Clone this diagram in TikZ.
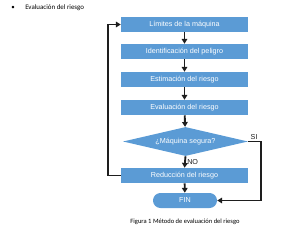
\documentclass[tikz,border=0pt]{standalone}
\usepackage{fontspec}
\setmainfont{Liberation Sans}
\newfontfamily\bodyfont{Carlito}
\usetikzlibrary{positioning, calc, arrows.meta, shapes.geometric}
\definecolor{boxBlue}{RGB}{91, 155, 213}
\definecolor{lineGray}{RGB}{30, 30, 30}

\tikzset{
  stepbox/.style={rectangle, fill=boxBlue, text=white, inner sep=0pt,
    minimum width=95.25pt, minimum height=11.25pt,
    font=\fontsize{5.4}{6}\selectfont},
  decision/.style={diamond, fill=boxBlue, text=white, inner sep=0pt, aspect=4.3,
    minimum width=93.75pt, minimum height=21.75pt,
    font=\fontsize{5.4}{6}\selectfont},
  endbox/.style={rectangle, rounded corners=5.6pt, fill=boxBlue, text=white,
    inner sep=0pt, minimum width=48pt, minimum height=11.25pt,
    font=\fontsize{5.4}{6}\selectfont},
  flow/.style={lineGray, line width=1.4pt, -{Triangle[length=3.6pt, width=4.2pt]}},
  tag/.style={font=\fontsize{5.4}{6}\selectfont, inner sep=1pt}
}

\begin{document}
\begin{tikzpicture}[x=0.75pt, y=-0.75pt]
        \useasboundingbox (0,0) rectangle (300,236);

        % heading
        \node[font=\bodyfont\fontsize{5.2}{6}\selectfont] (dot) at (13, 8) {\textbullet};
        \node[anchor=west, inner sep=0pt, font=\bodyfont\fontsize{5.2}{6}\selectfont] (title) at (25, 8) {Evaluación del riesgo};

        % steps
        \node[stepbox] (limits) at (184.5, 24.5) {Límites de la máquina};
        \node[stepbox] (ident) at (184.5, 51.5) {Identificación del peligro};
        \node[stepbox] (estim) at (184.5, 79.5) {Estimación del riesgo};
        \node[stepbox] (evalu) at (184.5, 107.5) {Evaluación del riesgo};
        \node[decision] (check) at (185.5, 141.5) {¿Máquina segura?};
        \node[stepbox] (reduc) at (184.5, 175.5) {Reducción del riesgo};
        \node[endbox] (fin) at (185, 200.5) {FIN};

        % arrows
        \draw[flow] (limits) -- (ident);
        \draw[flow] (ident) -- (estim);
        \draw[flow] (estim) -- (evalu);
        \draw[flow] (evalu) -- (check);
        \draw[flow] (check.south) -- node[tag, right] {NO} (reduc.north);
        \draw[flow] (reduc) -- (fin);

        % loops
        \draw[flow] (reduc.west) -- ++(-13, 0) |- (limits.west);
        \draw[flow] (check.east) -- node[tag, above, pos=0.45] {SI} ++(13, 0) |- (fin.east);

        % caption
        \node[font=\bodyfont\fontsize{4.9}{6}\selectfont] (caption) at (185, 222) {Figura 1 Método de evaluación del riesgo};
      \end{tikzpicture}
\end{document}
